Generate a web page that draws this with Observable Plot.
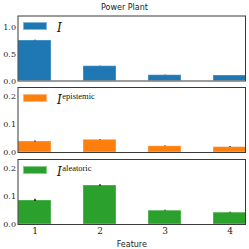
<!DOCTYPE html>
<html><head><meta charset="utf-8">
<script src="https://cdn.jsdelivr.net/npm/d3@7"></script>
<script src="https://cdn.jsdelivr.net/npm/@observablehq/plot@0.6"></script>
<style>
html,body{margin:0;padding:0;background:#fff;}
#wrap{position:relative;width:249px;height:249px;overflow:hidden;}
.abs{position:absolute;}
.title{font-family:"DejaVu Sans",sans-serif;font-size:8px;color:#222;width:249px;text-align:center;top:3px;left:0;}
.patch{width:24px;height:8px;box-sizing:border-box;border:1px solid rgba(255,255,255,0.45);}
.leg{font-family:"DejaVu Serif",serif;color:#111;white-space:nowrap;}
.leg i{font-size:12px;}
.leg sup{font-family:"Liberation Serif",serif;font-size:8.5px;vertical-align:5px;margin-left:0.5px;}
</style>
</head><body>
<div id="wrap"></div>
<script>
const features = [1, 2, 3, 4];
const totalI = [0.760, 0.278, 0.109, 0.103];
const totalErr = [0.004, 0.003, 0.002, 0.002];
const epistemic = [0.039, 0.045, 0.022, 0.019];
const epistemicErr = [0.002, 0.001, 0.001, 0.001];
const aleatoric = [0.085, 0.138, 0.049, 0.042];
const aleatoricErr = [0.004, 0.003, 0.001, 0.001];
const panels = [
  {values: totalI, err: totalErr, color: "#1f77b4", ymax: 1.22, ticks: [0, 0.5, 1.0], sup: "", top: 10, mt: 5.5, mb: 4.5, h: 75, xaxis: false},
  {values: epistemic, err: epistemicErr, color: "#ff7f0e", ymax: 0.23, ticks: [0, 0.1, 0.2], sup: "epistemic", top: 82, mt: 5, mb: 5, h: 75, xaxis: false},
  {values: aleatoric, err: aleatoricErr, color: "#2ca02c", ymax: 0.23, ticks: [0, 0.1, 0.2], sup: "aleatoric", top: 154, mt: 5, mb: 25, h: 95, xaxis: true}
];
const wrap = document.getElementById("wrap");
const t = document.createElement("div");
t.className = "abs title"; t.textContent = "Power Plant";
wrap.appendChild(t);

panels.forEach(p => {
  const data = features.map((f, i) => ({f, v: p.values[i], e: p.err[i]}));
  const marks = [
    Plot.barY(data, {x: "f", y: "v", fill: p.color, stroke: "#ffffff", strokeOpacity: 0.35, strokeWidth: 1}),
    Plot.ruleX(data, {x: "f", y1: d => d.v - d.e, y2: d => d.v + d.e, stroke: "#000", strokeWidth: 1.4}),
    Plot.axisY({ticks: p.ticks, tickSize: 0, tickPadding: 2, tickFormat: d3.format(".1f"), label: null, fontFamily: "'DejaVu Serif', serif", fontSize: 8}),
    Plot.frame({stroke: "#3a3a3a", strokeWidth: 1})
  ];
  if (p.xaxis) {
    marks.push(Plot.axisX({tickSize: 0, tickPadding: 3, label: "Feature", labelAnchor: "center", labelArrow: "none", labelOffset: 22, fontFamily: "'DejaVu Serif', serif", fontSize: 9}));
  } else {
    marks.push(Plot.axisX({ticks: [], label: null}));
  }
  const chart = Plot.plot({
    width: 249, height: p.h,
    marginLeft: 17.5, marginRight: 4, marginTop: p.mt, marginBottom: p.mb,
    x: {type: "band", domain: features, paddingInner: 0.5, paddingOuter: 0},
    y: {domain: [0, p.ymax]},
    style: {background: "transparent", color: "#222", fontFamily: "'DejaVu Sans', sans-serif", fontSize: "8px", overflow: "visible"},
    marks
  });
  chart.classList.add("abs");
  chart.style.top = p.top + "px"; chart.style.left = "0px";
  wrap.appendChild(chart);
  const patch = document.createElement("div");
  patch.className = "abs patch"; patch.style.background = p.color;
  patch.style.left = "23px"; patch.style.top = (p.top + p.mt + 6.5) + "px";
  wrap.appendChild(patch);
  const leg = document.createElement("div");
  leg.className = "abs leg";
  leg.style.left = "57px"; leg.style.top = (p.top + p.mt + 1.5) + "px";
  leg.innerHTML = "<i>I</i>" + (p.sup ? "<sup>" + p.sup + "</sup>" : "");
  wrap.appendChild(leg);
});
document.querySelectorAll("svg [aria-label='x-axis label'] text, svg [aria-label='x-axis label']").forEach(el => { el.setAttribute("font-family", "DejaVu Sans, sans-serif"); el.setAttribute("font-size", "8"); });
</script>
</body></html>
